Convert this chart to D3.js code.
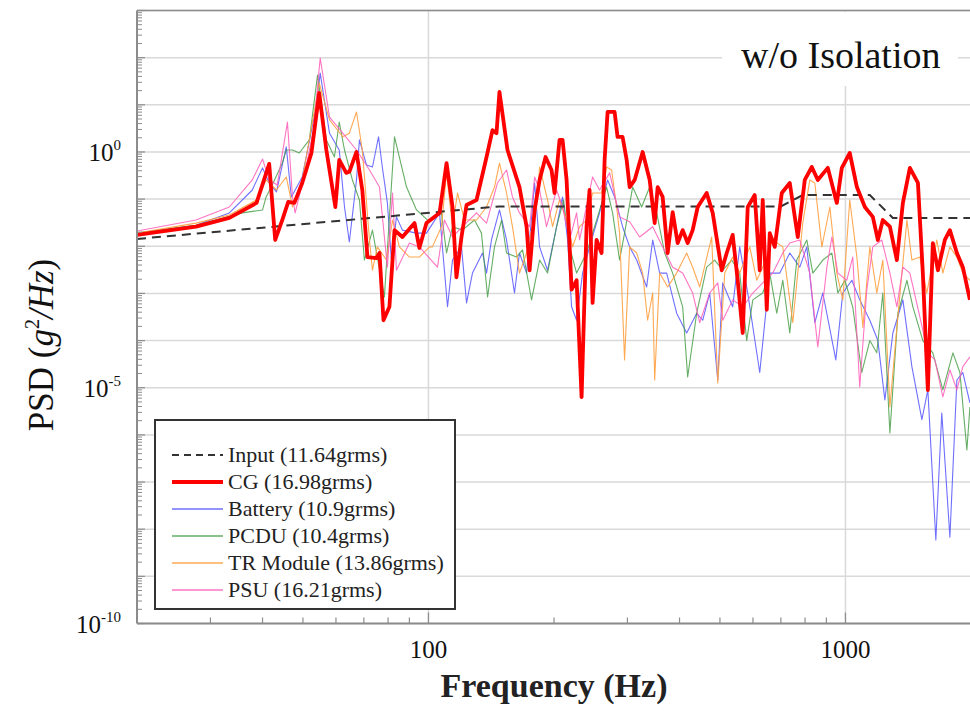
<!DOCTYPE html>
<html><head><meta charset="utf-8">
<script src="https://cdn.jsdelivr.net/npm/d3@7"></script>
<style>
body{margin:0;background:#fff;}
svg{display:block;font-family:"Liberation Serif","Times New Roman",serif;}
</style>
</head><body>
<svg id="c" width="970" height="724"></svg>
<script>
// ---------------- DATA ([frequency Hz, PSD g^2/Hz]) ----------------
const inputData = [[20,0.0143],[148,0.07],[700,0.07],[790,0.122],[1144,0.122],[1299,0.04],[2000,0.04]];

const cgData = [[20,0.0174],[27.7,0.026],[33.3,0.040],[38.7,0.083],[41.5,0.56],[42.9,0.0136],[44.6,0.036],[46.1,0.087],[47.7,0.083],[49.8,0.22],[52.4,0.95],[54.7,17.8],[56.9,1.1],[59.8,0.068],[61.1,0.68],[63.5,0.36],[64.6,0.38],[67.2,1.0],[69.4,0.156],[71.4,0.0059],[75.0,0.0056],[76.3,0.0072],[78.0,2.7e-4],[80.6,5.2e-4],[82.9,0.022],[86.6,0.0157],[92.6,0.031],[95.1,0.0092],[98.9,0.031],[106.3,0.051],[110.5,0.58],[114.2,0.068],[116.7,0.0022],[120,0.0157],[123.4,0.075],[130.4,0.096],[137.8,0.78],[142.4,2.9],[145.6,2.5],[148,18.7],[154.7,1.1],[165.3,0.18],[171.9,0.026],[174.8,0.0031],[179.7,0.059],[184.7,0.255],[190.9,0.78],[197.3,0.415],[200.6,0.135],[206.2,1.8],[209.7,1.8],[214.4,0.255],[220.4,0.0012],[226.6,0.0019],[232.9,6.3e-6],[239.4,0.026],[243.4,0.156],[247.5,6.3e-4],[253,0.0136],[260.1,0.0072],[264.5,0.68],[268.9,7.05],[279.5,7.05],[284.1,2.08],[292.1,2.08],[298.7,0.68],[303.7,0.18],[312.2,0.255],[326.3,1.0],[339.2,0.255],[348.7,0.031],[354.5,0.18],[364.4,0.111],[374.6,0.0072],[385.1,0.053],[395.9,0.0117],[407,0.022],[418.4,0.0117],[430.1,0.022],[442.2,0.068],[464.7,0.135],[480.4,0.051],[504.9,0.0031],[519.1,0.0072],[536.5,0.0174],[551.5,0.0019],[567,1.45e-4],[582.9,0.068],[605.9,0.122],[622.9,0.0031],[633.3,0.096],[647.5,4.5e-4],[658.3,0.019],[676.8,0.0097],[703.5,0.135],[735.3,0.22],[768.5,0.0157],[798.8,0.255],[830.3,0.48],[858.3,0.255],[907.1,0.46],[953.4,0.083],[980,0.46],[1024,0.95],[1065,0.18],[1113,0.068],[1163,0.042],[1196,0.0136],[1229,0.036],[1278,0.026],[1328,0.0051],[1373,0.083],[1427,0.46],[1492,0.22],[1533,0.0027],[1576,8.9e-6],[1620,0.0117],[1666,0.0031],[1731,0.0136],[1780,0.022],[1850,0.0072],[1912,0.0036],[1988,7.3e-4]];

const batteryData = [[20,0.019],[27.7,0.028],[33.3,0.051],[37.8,0.156],[40,0.46],[41.5,0.22],[43.2,0.142],[45.6,1.28],[46.9,0.111],[49.8,0.295],[53.8,9.0],[55.0,47],[57.9,2.5],[61.1,1.1],[62.9,0.068],[64.6,0.0123],[67.2,0.255],[68.3,1.8],[71.0,0.53],[73.4,0.48],[75.9,2.1],[77.5,0.48],[79.7,0.083],[81.5,0.0051],[83.8,0.042],[86.6,0.022],[93.6,0.019],[98.9,0.019],[106.3,0.051],[108,0.0097],[111.1,5.2e-4],[114.2,0.0051],[120,0.0097],[123.4,6.3e-4],[127.5,0.0027],[134.8,0.0072],[137.8,0.0027],[141.6,0.0136],[148,0.059],[153.9,0.0136],[160.8,0.00102],[165.3,0.0072],[171.9,0.0027],[179.7,0.22],[184.7,0.0097],[193,0.0031],[202.9,0.026],[209.7,0.111],[215.6,0.0136],[220.4,5.2e-4],[226.6,2.7e-4],[234.2,0.0027],[243.4,0.0097],[257.2,0.051],[268.9,0.255],[279.5,0.111],[292.1,0.026],[303.7,0.0097],[315.7,0.0051],[333.6,0.00137],[344.9,0.0136],[358.5,0.0027],[372.6,0.0027],[393.7,3.8e-4],[416.1,1.45e-4],[439.8,3.8e-4],[454.7,2.7e-4],[472.5,0.00102],[494,1.46e-5],[507.7,0.00167],[536.5,5.2e-4],[557.7,0.0097],[582.9,0.00102],[622.9,2.1e-5],[658.3,0.0027],[695.8,0.0027],[735.3,0.0072],[777,0.0036],[807.7,0.0097],[844.3,2.4e-4],[882.5,0.00102],[948.1,3.9e-5],[985.4,0.00102],[1036,0.0019],[1082,7.3e-4],[1144,2.7e-4],[1196,1.0e-4],[1243,5.5e-6],[1299,1.45e-4],[1373,7.3e-4],[1443,2.8e-5],[1525,2.1e-6],[1576,9.0e-6],[1647,5.9e-9],[1702,2.9e-6],[1780,6.8e-9],[1850,1.46e-5],[1912,2.1e-5],[1988,4.8e-6]];

const pcduData = [[20,0.019],[27.7,0.028],[35.8,0.051],[40,0.059],[40.8,0.111],[42.2,0.20],[44.6,0.58],[45.6,1.1],[47.2,1.1],[49,0.95],[51.8,1.8],[54.2,43],[56.9,1.8],[59.5,0.78],[61.1,4.3],[62.9,1.1],[65.7,0.255],[68.3,0.096],[70.2,0.0051],[73.4,0.022],[78.4,8.4e-4],[82.9,2.1],[88.6,0.18],[93.6,0.059],[100.6,0.033],[107.4,0.051],[110.5,0.0072],[114.2,0.026],[120.6,0.022],[128.9,0.036],[134,0.019],[138.6,8.4e-4],[144,0.0097],[149.7,0.036],[153.9,0.0072],[162.6,0.0059],[168.1,0.0084],[176.7,7.3e-4],[184.7,0.0051],[193,0.0027],[202.9,0.026],[210.9,0.096],[218,0.0097],[226.6,0.0027],[239.4,0.0072],[253,0.036],[267.4,0.18],[276.4,0.051],[287.3,0.0051],[295.3,0.019],[308.8,0.18],[324.5,0.068],[339.2,0.18],[352.6,0.051],[368.5,0.0072],[385.1,0.0027],[407,5.2e-4],[418.4,1.7e-5],[439.8,3.8e-4],[464.7,0.0036],[485.8,0.0051],[507.7,0.0031],[533.5,0.0051],[557.7,0.0027],[579.7,1.0e-4],[599.4,7.3e-4],[633.3,0.00102],[658.3,0.0027],[684.3,3.8e-4],[707.4,0.0019],[735.3,1.45e-4],[764.2,0.0051],[807.7,0.0136],[835,0.0027],[882.5,0.0051],[927.7,0.0072],[958.7,0.00102],[996.3,0.0019],[1041,5.2e-4],[1094,2.1e-5],[1144,1.0e-4],[1189,5.5e-5],[1229,0.00102],[1278,1.1e-6],[1336,3.8e-4],[1404,0.0019],[1451,5.2e-4],[1533,1.0e-4],[1620,5.5e-5],[1712,9.0e-6],[1810,5.5e-5],[1881,2.1e-5],[1955,4.8e-7],[1988,3.9e-6]];

const trData = [[20,0.019],[27.7,0.031],[33.3,0.046],[38.7,0.096],[40.8,0.255],[43.2,0.156],[45.6,0.295],[47.2,0.068],[49.8,0.255],[54.7,29],[57.9,4.8],[62.3,2.1],[64.6,2.5],[67.2,7.05],[69.4,1.1],[72.2,0.0136],[73.4,0.0031],[75.4,0.0097],[79.3,0.0051],[82,0.036],[85.2,0.0097],[90,0.0059],[95.1,0.0059],[100.6,0.0097],[102.2,0.0097],[107.4,0.026],[110.5,0.36],[114.2,0.026],[117.4,0.135],[122,0.036],[130.4,0.036],[137.8,0.068],[144,0.18],[148,0.58],[153.9,0.135],[159,0.026],[165.3,0.0027],[171.9,0.0072],[181.6,0.068],[184.7,0.48],[193,0.096],[198.4,0.026],[206.2,0.096],[214.4,0.036],[221.6,0.0097],[230.3,0.026],[239.4,0.036],[247.5,0.135],[260.1,0.135],[267.4,0.48],[274.9,0.415],[282.6,0.068],[287.3,0.019],[295.3,3.9e-5],[303.7,0.0097],[315.7,0.0072],[326.3,0.0027],[335.4,2.7e-4],[344.9,0.00102],[348.7,1.46e-5],[358.5,0.0027],[374.6,0.00137],[393.7,0.0027],[416.1,0.0072],[430.1,0.0036],[447.2,0.00137],[477.7,0.0157],[494,1.26e-5],[513.4,0.0027],[536.5,0.0059],[557.7,0.0027],[589.4,0.0097],[612.8,0.0019],[633.3,0.0036],[669.3,0.0136],[707.4,0.0097],[747.6,2.4e-4],[790,0.031],[821.2,0.255],[844.3,0.22],[877.6,0.0097],[917.5,0.068],[953.4,0.0027],[985.4,7.3e-4],[1024,0.096],[1065,0.0059],[1101,1.9e-4],[1144,0.0097],[1189,0.00102],[1229,0.0051],[1278,3.9e-6],[1328,1.9e-4],[1404,0.036],[1443,0.0051],[1508,0.0059],[1567,0.00102],[1656,0.0136],[1712,0.0027],[1780,0.0097],[1850,0.0059],[1912,0.0027],[1988,0.0019]];

const psuData = [[20,0.021],[27.7,0.036],[33.3,0.068],[37.8,0.255],[40,0.71],[41.5,0.255],[43.4,0.20],[45.9,4.3],[47.2,0.111],[47.9,0.051],[50.4,0.325],[53.0,2.9],[55.0,98],[57.9,5.5],[62.3,2.5],[67.2,1.1],[72.2,0.415],[76.3,0.18],[79.7,0.0036],[82.0,0.135],[83.8,0.0031],[90.0,0.0117],[95.1,0.0097],[105.1,0.0036],[109.2,0.036],[114.2,0.0157],[120.6,0.026],[130.4,0.051],[137.8,0.031],[146.4,0.22],[153.9,0.415],[159.0,0.111],[165.3,0.051],[174.8,0.026],[179.7,0.295],[184.7,0.156],[191.9,0.026],[202.9,0.156],[209.7,0.068],[218.0,0.0136],[226.6,0.051],[230.3,0.0136],[247.5,0.295],[257.2,0.156],[271.9,0.36],[287.3,0.042],[303.7,0.033],[321,0.0157],[344.9,0.026],[364.4,0.0097],[385.1,0.0036],[407,0.0027],[430.1,0.00102],[447.2,2.4e-4],[472.5,0.00102],[494,0.00167],[507.7,2.7e-4],[536.5,7.3e-4],[567,5.2e-4],[599.4,0.00102],[633.3,0.00167],[669.3,0.0027],[707.4,0.0072],[735.3,0.0117],[777,0.0136],[821.2,0.0027],[858.3,7.3e-5],[902.4,0.0036],[927.7,0.0157],[958.7,0.0027],[1007,0.0019],[1041,0.0059],[1082,1.04e-5],[1125,0.00118],[1163,0.0097],[1222,0.0136],[1278,0.0027],[1328,5.2e-4],[1373,0.0036],[1427,0.0027],[1508,3.2e-4],[1576,5.5e-5],[1638,3.9e-5],[1712,6.4e-6],[1780,2.4e-5],[1850,9.0e-6],[1912,2.8e-5],[1988,4.5e-5]];

const legendLabels = ["Input (11.64grms)","CG (16.98grms)","Battery (10.9grms)","PCDU (10.4grms)","TR Module (13.86grms)","PSU (16.21grms)"];
const xTickValues = [100, 1000];
const xTickLabels = ["100", "1000"];
const yTickValues = [1, 1e-5, 1e-10];
const yTickExps = ["0", "-5", "-10"];
const yGridExps = [3,2,1,0,-1,-2,-3,-4,-5,-6,-7,-8,-9,-10];
const titleText = "w/o Isolation";

// ---------------- STYLES ----------------
const series = [
  {data: batteryData, color: "#5656ff", width: 1.1, op: 0.85},
  {data: pcduData,    color: "#3f9a3f", width: 1.1, op: 0.8},
  {data: trData,      color: "#ffa040", width: 1.1, op: 0.9},
  {data: psuData,     color: "#ff5cb8", width: 1.1, op: 0.85},
];

const svg = d3.select("#c");
const L = 137, R = 971, T = 10.5, B = 623.5;
const x = d3.scaleLog().domain([20, 2000]).range([L, R]);
const y = d3.scaleLog().domain([1e-10, 1e3]).range([B, T]);

svg.append("defs").append("clipPath").attr("id","clip")
  .append("rect").attr("x",L).attr("y",T).attr("width",R-L).attr("height",B-T);

// grid
const gridVals = yGridExps.map(e => +("1e" + e));
svg.append("g").selectAll("line").data(gridVals).join("line")
  .attr("x1",L).attr("x2",R).attr("y1",d=>y(d)).attr("y2",d=>y(d))
  .attr("stroke","#d9d9d9").attr("stroke-width",1.5);
svg.append("g").selectAll("line").data(xTickValues).join("line")
  .attr("x1",d=>x(d)).attr("x2",d=>x(d)).attr("y1",T).attr("y2",B)
  .attr("stroke","#d9d9d9").attr("stroke-width",1.5);

// title background and title
svg.append("rect").attr("x",722).attr("y",12).attr("width",236).attr("height",74).attr("fill","#fff");
svg.append("text").attr("x",741).attr("y",68).attr("font-size",38).attr("fill","#111").text(titleText);

// data lines
const line = d3.line().x(d=>x(d[0])).y(d=>y(d[1]));
const gData = svg.append("g").attr("clip-path","url(#clip)");
series.forEach(s => {
  gData.append("path").datum(s.data).attr("d",line).attr("fill","none")
    .attr("stroke",s.color).attr("stroke-width",s.width).attr("stroke-opacity",s.op)
    .attr("stroke-linejoin","round");
});
gData.append("path").datum(inputData).attr("d",line).attr("fill","none")
  .attr("stroke","#333").attr("stroke-width",2).attr("stroke-dasharray","9,6");
gData.append("path").datum(cgData).attr("d",line).attr("fill","none")
  .attr("stroke","#ff0000").attr("stroke-width",3.8).attr("stroke-linejoin","round");

// axes frame
const frame = svg.append("g").attr("stroke","#8c8c8c").attr("fill","none");
frame.append("line").attr("x1",L).attr("x2",R).attr("y1",T).attr("y2",T).attr("stroke-width",1.5);
frame.append("line").attr("x1",L).attr("x2",L).attr("y1",T).attr("y2",B).attr("stroke-width",2);
frame.append("line").attr("x1",L).attr("x2",R).attr("y1",B).attr("y2",B).attr("stroke-width",2);

// y ticks (inside)
const yMinor = [];
yGridExps.forEach(e => { if (e < 3) for (let m = 2; m <= 9; m++) yMinor.push(+(m + "e" + e)); });
svg.append("g").selectAll("line").data(yMinor).join("line")
  .attr("x1",L).attr("x2",L+5).attr("y1",d=>y(d)).attr("y2",d=>y(d))
  .attr("stroke","#8c8c8c").attr("stroke-width",1);
svg.append("g").selectAll("line").data(gridVals).join("line")
  .attr("x1",L).attr("x2",L+8).attr("y1",d=>y(d)).attr("y2",d=>y(d))
  .attr("stroke","#8c8c8c").attr("stroke-width",1.2);

// x ticks (inside)
const xMinor = [];
[10,100,1000].forEach(dec => { for (let m = 2; m <= 9; m++) { const v = m*dec; if (v > 20 && v < 2000) xMinor.push(v); } });
svg.append("g").selectAll("line").data(xMinor).join("line")
  .attr("x1",d=>x(d)).attr("x2",d=>x(d)).attr("y1",B).attr("y2",B-6)
  .attr("stroke","#8c8c8c").attr("stroke-width",1.2);
svg.append("g").selectAll("line").data(xTickValues).join("line")
  .attr("x1",d=>x(d)).attr("x2",d=>x(d)).attr("y1",B).attr("y2",B-11)
  .attr("stroke","#8c8c8c").attr("stroke-width",1.2);

// tick labels
svg.append("g").selectAll("text").data(xTickValues).join("text")
  .attr("x",d=>x(d)).attr("y",658).attr("text-anchor","middle")
  .attr("font-size",25).attr("fill","#111").text((d,i)=>xTickLabels[i]);

const yl = svg.append("g").selectAll("text").data(yTickValues).join("text")
  .attr("x",121).attr("y",d=>y(d)+9).attr("text-anchor","end")
  .attr("font-size",25).attr("fill","#111");
yl.append("tspan").text("10");
yl.append("tspan").attr("dy",-11).attr("font-size",15).text((d,i)=>yTickExps[i]);

// axis titles
svg.append("text").attr("x",(L+R)/2).attr("y",697).attr("text-anchor","middle")
  .attr("font-size",34).attr("font-weight","bold").attr("fill","#222").text("Frequency (Hz)");

const yt = svg.append("text").attr("transform","translate(53,345) rotate(-90)")
  .attr("text-anchor","middle").attr("font-size",35).attr("fill","#111");
yt.append("tspan").text("PSD (");
yt.append("tspan").attr("font-style","italic").text("g");
yt.append("tspan").attr("dy",-14).attr("font-size",20).text("2");
yt.append("tspan").attr("dy",14).attr("font-style","italic").text("/Hz");
yt.append("tspan").text(")");

// legend
const lg = svg.append("g");
lg.append("rect").attr("x",155).attr("y",420).attr("width",300).attr("height",189)
  .attr("fill","#fff").attr("stroke","#333").attr("stroke-width",2);
const legendStyles = [
  {color:"#333", width:2, dash:"7,5", op:1},
  {color:"#ff0000", width:4, dash:null, op:1},
  {color:"#5656ff", width:1.3, dash:null, op:0.85},
  {color:"#3f9a3f", width:1.3, dash:null, op:0.8},
  {color:"#ffa040", width:1.3, dash:null, op:0.9},
  {color:"#ff5cb8", width:1.3, dash:null, op:0.85},
];
legendLabels.forEach((lab,i) => {
  const cy = 455 + i*27;
  const st = legendStyles[i];
  const ln = lg.append("line").attr("x1",172).attr("x2",223).attr("y1",cy).attr("y2",cy)
    .attr("stroke",st.color).attr("stroke-width",st.width).attr("stroke-opacity",st.op);
  if (st.dash) ln.attr("stroke-dasharray",st.dash);
  lg.append("text").attr("x",228).attr("y",cy+7).attr("font-size",22).attr("fill","#222").text(lab);
});
</script>
</body></html>
